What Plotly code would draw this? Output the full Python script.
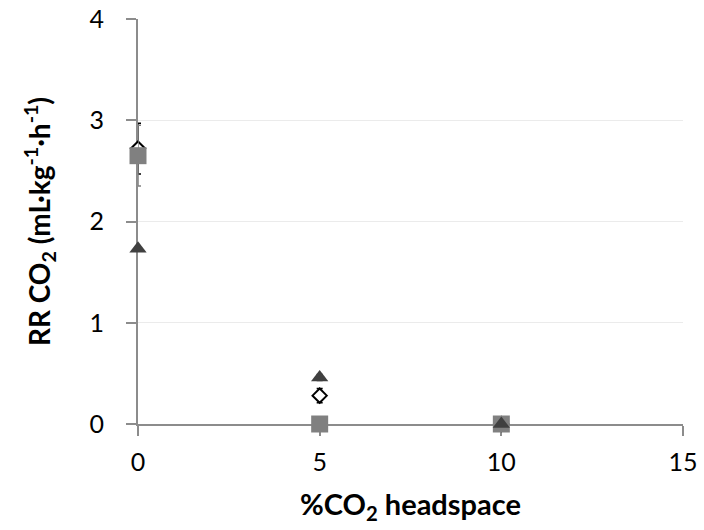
import plotly.graph_objects as go

x_vals = [0, 5, 10]
diamond_y = [2.72, 0.28, 0.0]
diamond_err = [0.25, 0.07, 0.0]
square_y = [2.65, 0.0, 0.0]
square_err = [0.30, 0.0, 0.0]
triangle_y = [1.73, 0.46, 0.0]
triangle_err = [0.02, 0.03, 0.0]

x_ticks = [0, 5, 10, 15]
y_ticks = [0, 1, 2, 3, 4]

fig = go.Figure()
fig.add_trace(go.Scatter(
    x=x_vals, y=diamond_y, mode="markers", cliponaxis=False,
    marker=dict(symbol="diamond", size=11, color="white",
                line=dict(color="black", width=2)),
    error_y=dict(type="data", array=diamond_err, color="black", thickness=1.5, width=3),
))
fig.add_trace(go.Scatter(
    x=x_vals, y=square_y, mode="markers", cliponaxis=False,
    marker=dict(symbol="square", size=17, color="#808080", line=dict(width=0)),
    error_y=dict(type="data", array=square_err, color="#808080", thickness=1.5, width=3),
))
fig.add_trace(go.Scatter(
    x=x_vals, y=triangle_y, mode="markers", cliponaxis=False,
    marker=dict(symbol="triangle-up", size=15, color="#404040", line=dict(width=0)),
    error_y=dict(type="data", array=triangle_err, color="#404040", thickness=1.5, width=3),
))

axis_color = "#8c8c8c"
fig.update_layout(
    width=704, height=530,
    margin=dict(l=138, r=21, t=19, b=106),
    paper_bgcolor="white", plot_bgcolor="white",
    showlegend=False,
    font=dict(family="Lato, Carlito, sans-serif", size=24, color="black"),
    xaxis=dict(
        range=[0, 15], tickvals=x_ticks, showgrid=False, zeroline=False,
        showline=True, linecolor=axis_color, linewidth=2,
        ticks="outside", ticklen=10, tickwidth=2, tickcolor=axis_color,
        layer="below traces", automargin=False,
        tickfont=dict(size=25), ticklabeloverflow="allow", ticklabelstandoff=5,
        title=dict(text="<b>%CO<sub>2</sub> headspace</b>", font=dict(size=29), standoff=20),
    ),
    yaxis=dict(
        range=[0, 4], tickvals=y_ticks, showgrid=True, gridcolor="#ebebeb", gridwidth=1,
        zeroline=False, showline=True, linecolor=axis_color, linewidth=2,
        ticks="outside", ticklen=10, tickwidth=2, tickcolor=axis_color,
        layer="below traces", automargin=False,
        tickfont=dict(size=25), ticklabeloverflow="allow", ticklabelstandoff=17,
        title=dict(text="<b>RR CO<sub>2</sub> (mL·kg<sup>-1</sup>·h<sup>-1</sup>)</b>", font=dict(size=28), standoff=31),
    ),
)

fig.write_html("out.html", config={"displayModeBar": False},
               post_script="document.body.style.margin='0';")
